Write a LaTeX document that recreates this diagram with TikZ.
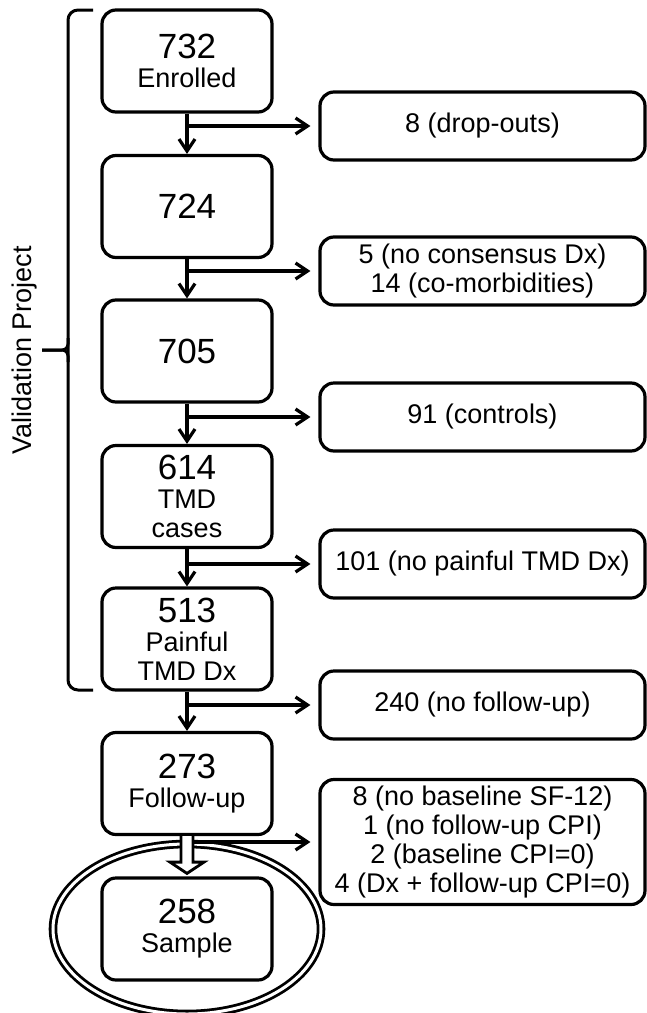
\documentclass[tikz,border=0pt]{standalone}
\usepackage{fontspec}
\setmainfont{Liberation Sans}
\usetikzlibrary{arrows.meta,calc}
\newcommand{\bignr}[1]{{\fontsize{17.5}{17.5}\selectfont #1}}

\begin{document}
\begin{tikzpicture}[x=0.5pt,y=-0.5pt,
		stage/.style={draw,rounded corners=7pt,line width=1.6pt,fill=white,minimum width=85pt,minimum height=51pt,align=center,inner sep=1pt,font=\fontsize{13.5}{14.5}\selectfont},
		excl/.style={draw,rounded corners=7pt,line width=1.6pt,fill=white,minimum width=162.5pt,minimum height=34pt,align=center,inner sep=1pt,font=\fontsize{13.5}{14.5}\selectfont},
		flow/.style={line width=1.6pt,-{Straight Barb[length=6pt,width=8pt]}}]
		\useasboundingbox (0,0) rectangle (647,1013);
		\def\lx{187}
		\def\rx{482.5}
		
		\node[stage] (N732) at (\lx,61) {\bignr{732}\\Enrolled};
		\node[stage] (N724) at (\lx,206.5) {\bignr{724}};
		\node[stage] (N705) at (\lx,351) {\bignr{705}};
		\node[stage] (N614) at (\lx,496.5) {\bignr{614}\\TMD\\cases};
		\node[stage] (N513) at (\lx,639) {\bignr{513}\\Painful\\TMD Dx};
		\node[stage] (N273) at (\lx,783.5) {\bignr{273}\\Follow-up};
		\node[stage] (N258) at (\lx,929) {\bignr{258}\\Sample};
		
		\node[excl] (R1) at (\rx,126) {8 (drop-outs)};
		\node[excl] (R2) at (\rx,271) {5 (no consensus Dx)\\14 (co-morbidities)};
		\node[excl] (R3) at (\rx,417) {91 (controls)};
		\node[excl] (R4) at (\rx,564) {101 (no painful TMD Dx)};
		\node[excl] (R5) at (\rx,705) {240 (no follow-up)};
		\node[excl,minimum height=62.5pt] (R6) at (\rx,842) {8 (no baseline SF-12)\\1 (no follow-up CPI)\\2 (baseline CPI=0)\\4 (Dx + follow-up CPI=0)};
		
		\draw[flow] (N732) -- (N724);
		\draw[flow] (N724) -- (N705);
		\draw[flow] (N705) -- (N614);
		\draw[flow] (N614) -- (N513);
		\draw[flow] (N513) -- (N273);
		\draw[flow,shorten >=4pt] (N732.south |- R1) -- (R1);
		\draw[flow,shorten >=4pt] (N724.south |- R2) -- (R2);
		\draw[flow,shorten >=4pt] (N705.south |- R3) -- (R3);
		\draw[flow,shorten >=4pt] (N614.south |- R4) -- (R4);
		\draw[flow,shorten >=4pt] (N513.south |- R5) -- (R5);
		
		\draw[line width=1.4pt,double,double distance=1.5pt] (N258.center) ellipse [x radius=67pt,y radius=42.5pt];
		\draw[flow,shorten >=4pt] (N273.south |- R6) -- (R6);
		\draw[line width=1.4pt,fill=white,line join=miter] ($(N273.south)+(-6,0)$) -- ++(0,26) -- ++(-11,0) -- ($(N258.north)+(0,-3)$) -- ($(N273.south)+(17,26)$) -- ++(-11,0) -- ($(N273.south)+(6,0)$);
		
		\draw[line width=1.5pt,rounded corners=5pt] (93,10) -- (68,10) -- (68,690) -- (93,690);
		\draw[line width=1.5pt,rounded corners=3pt] (68,338) |- (42,350);
		\draw[line width=1.5pt,rounded corners=3pt] (68,362) |- (42,350);
		\node[rotate=90,font=\fontsize{13.5}{14.5}\selectfont] (vproj) at (25,350) {Validation Project};
	\end{tikzpicture}
\end{document}
